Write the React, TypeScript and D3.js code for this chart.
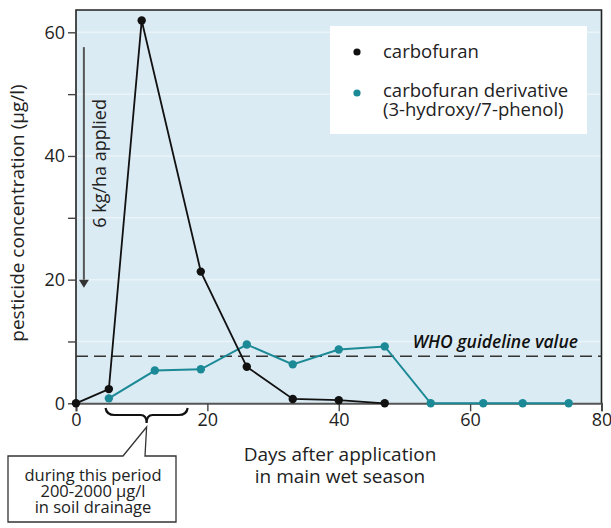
import * as d3 from "d3";
import { useEffect, useRef } from "react";

// days after application
const carbofuranDays = [0, 5, 10, 19, 26, 33, 40, 47];
const carbofuranValues = [0, 2.3, 61.9, 21.3, 5.9, 0.7, 0.5, 0];

const derivativeDays = [5, 12, 19, 26, 33, 40, 47, 54, 62, 68, 75];
const derivativeValues = [0.8, 5.3, 5.5, 9.5, 6.3, 8.7, 9.2, 0, 0, 0, 0];

const whoGuideline = 7.6;
const xTicks = [0, 20, 40, 60, 80];
const yTicks = [0, 10, 20, 30, 40, 50, 60];
const drainagePeriod = [4.5, 17];

const FONT = "'Open Sans', sans-serif";
const TEAL = "#1b8a96";

const App = () => {
  const ref = useRef<SVGSVGElement>(null);

  useEffect(() => {
    const svg = d3.select(ref.current);
    svg.selectAll("*").remove();

    const left = 76,
      right = 601.5,
      top = 10,
      bottom = 403.3;

    const x = d3.scaleLinear().domain([0, 80]).range([left, right]);
    const y = d3.scaleLinear().domain([0, 60]).range([bottom, 32.3]);

    // plot background
    svg
      .append("rect")
      .attr("x", left)
      .attr("y", top)
      .attr("width", right - left)
      .attr("height", bottom - top)
      .attr("fill", "#dbebf3");

    // faint grid
    svg
      .append("g")
      .selectAll("line")
      .data(yTicks.filter((d) => d > 0))
      .join("line")
      .attr("x1", left)
      .attr("x2", right)
      .attr("y1", (d) => y(d))
      .attr("y2", (d) => y(d))
      .attr("stroke", "#ffffff")
      .attr("stroke-opacity", 0.45)
      .attr("stroke-width", 1.5);

    // border
    svg
      .append("path")
      .attr("d", `M${left},${bottom}V${top}H${right}V${bottom}`)
      .attr("fill", "none")
      .attr("stroke", "#222")
      .attr("stroke-width", 1.6);

    // y axis
    const yAxis = svg
      .append("g")
      .attr("transform", `translate(${left},0)`)
      .call(
        d3
          .axisLeft(y)
          .tickValues(yTicks)
          .tickSize(8)
          .tickPadding(3)
          .tickFormat((d) => (+d % 20 === 0 ? String(d) : ""))
      );
    yAxis.select(".domain").remove();
    yAxis.selectAll("line").attr("stroke", "#444").attr("stroke-width", 1.4);
    yAxis
      .selectAll("text")
      .attr("font-family", FONT)
      .attr("font-size", 18)
      .attr("fill", "#222");

    // x axis
    const xAxis = svg
      .append("g")
      .attr("transform", `translate(0,${bottom})`)
      .call(d3.axisBottom(x).tickValues(xTicks).tickSize(8).tickPadding(2));
    xAxis.select(".domain").attr("stroke", "#555").attr("stroke-width", 2);
    xAxis.selectAll("line").attr("stroke", "#444").attr("stroke-width", 1.4);
    xAxis
      .selectAll("text")
      .attr("font-family", FONT)
      .attr("font-size", 18)
      .attr("fill", "#222");

    // axis titles
    svg
      .append("text")
      .attr("transform", `translate(24,213) rotate(-90)`)
      .attr("text-anchor", "middle")
      .attr("font-family", FONT)
      .attr("font-size", 19)
      .attr("fill", "#222")
      .text("pesticide concentration (µg/l)");

    const xt = svg
      .append("text")
      .attr("text-anchor", "middle")
      .attr("font-family", FONT)
      .attr("font-size", 19)
      .attr("fill", "#222");
    xt.append("tspan").attr("x", 340).attr("y", 461).text("Days after application");
    xt.append("tspan").attr("x", 340).attr("y", 483).text("in main wet season");

    // WHO guideline
    svg
      .append("line")
      .attr("x1", left)
      .attr("x2", right)
      .attr("y1", y(whoGuideline))
      .attr("y2", y(whoGuideline))
      .attr("stroke", "#333")
      .attr("stroke-width", 1.4)
      .attr("stroke-dasharray", "12,6");
    svg
      .append("text")
      .attr("x", 578)
      .attr("y", y(whoGuideline) - 8)
      .attr("text-anchor", "end")
      .attr("font-family", FONT)
      .attr("font-size", 17.5)
      .attr("font-style", "italic")
      .attr("font-weight", 600)
      .attr("fill", "#111")
      .text("WHO guideline value");

    // application arrow
    const ax = x(1.2);
    svg
      .append("line")
      .attr("x1", ax)
      .attr("x2", ax)
      .attr("y1", y(57.6))
      .attr("y2", y(20))
      .attr("stroke", "#555")
      .attr("stroke-width", 2);
    svg
      .append("path")
      .attr("d", `M${ax - 5},${y(20)}L${ax + 5},${y(20)}L${ax},${y(19) + 2}Z`)
      .attr("fill", "#333");
    svg
      .append("text")
      .attr("transform", `translate(${ax + 22},${y(38.8)}) rotate(-90)`)
      .attr("text-anchor", "middle")
      .attr("font-family", FONT)
      .attr("font-size", 18)
      .attr("fill", "#222")
      .text("6 kg/ha applied");

    // series
    const line = d3
      .line<[number, number]>()
      .x((d) => x(d[0]))
      .y((d) => y(d[1]));

    const carb = carbofuranDays.map((d, i) => [d, carbofuranValues[i]] as [number, number]);
    const deriv = derivativeDays.map((d, i) => [d, derivativeValues[i]] as [number, number]);

    svg
      .append("path")
      .attr("d", line(deriv))
      .attr("fill", "none")
      .attr("stroke", TEAL)
      .attr("stroke-width", 2);
    svg
      .append("g")
      .selectAll("circle")
      .data(deriv)
      .join("circle")
      .attr("cx", (d) => x(d[0]))
      .attr("cy", (d) => y(d[1]))
      .attr("r", 4.2)
      .attr("fill", TEAL);

    svg
      .append("path")
      .attr("d", line(carb))
      .attr("fill", "none")
      .attr("stroke", "#111")
      .attr("stroke-width", 1.8);
    svg
      .append("g")
      .selectAll("circle")
      .data(carb)
      .join("circle")
      .attr("cx", (d) => x(d[0]))
      .attr("cy", (d) => y(d[1]))
      .attr("r", 4.2)
      .attr("fill", "#111");

    // legend
    const lg = svg.append("g");
    lg.append("rect")
      .attr("x", 330)
      .attr("y", 26)
      .attr("width", 257)
      .attr("height", 108)
      .attr("fill", "#ffffff");
    lg.append("circle").attr("cx", 357).attr("cy", 52).attr("r", 3.6).attr("fill", "#111");
    lg.append("circle").attr("cx", 357).attr("cy", 93).attr("r", 3.6).attr("fill", TEAL);
    const lt = lg
      .append("text")
      .attr("font-family", FONT)
      .attr("font-size", 18.5)
      .attr("fill", "#222");
    lt.append("tspan").attr("x", 383).attr("y", 58).text("carbofuran");
    lt.append("tspan").attr("x", 383).attr("y", 97).text("carbofuran derivative");
    lt.append("tspan").attr("x", 383).attr("y", 116).text("(3-hydroxy/7-phenol)");

    // brace under drainage period
    const b0 = x(drainagePeriod[0]),
      b1 = x(drainagePeriod[1]),
      bm = (b0 + b1) / 2;
    svg
      .append("path")
      .attr(
        "d",
        `M${b0},408 Q${b0 + 1},415 ${b0 + 9},415 L${bm - 6},415 Q${bm},415 ${bm},423 Q${bm},415 ${bm + 6},415 L${b1 - 9},415 Q${b1 - 1},415 ${b1},408`
      )
      .attr("fill", "none")
      .attr("stroke", "#111")
      .attr("stroke-width", 2.2);

    // callout box
    svg
      .append("path")
      .attr("d", `M8,456 L123,456 L${bm},427 L145,456 L176,456 L176,522 L8,522 Z`)
      .attr("fill", "#ffffff")
      .attr("stroke", "#333")
      .attr("stroke-width", 1.3);
    const ct = svg
      .append("text")
      .attr("text-anchor", "middle")
      .attr("font-family", FONT)
      .attr("font-size", 16.5)
      .attr("fill", "#222");
    ct.append("tspan").attr("x", 93).attr("y", 481).text("during this period");
    ct.append("tspan").attr("x", 93).attr("y", 497).text("200-2000 µg/l");
    ct.append("tspan").attr("x", 93).attr("y", 513).text("in soil drainage");
  }, []);

  return (
    <svg
      ref={ref}
      width={611}
      height={528}
      style={{ position: "absolute", left: 0, top: 0, background: "#fff" }}
    />
  );
};

export default App;
